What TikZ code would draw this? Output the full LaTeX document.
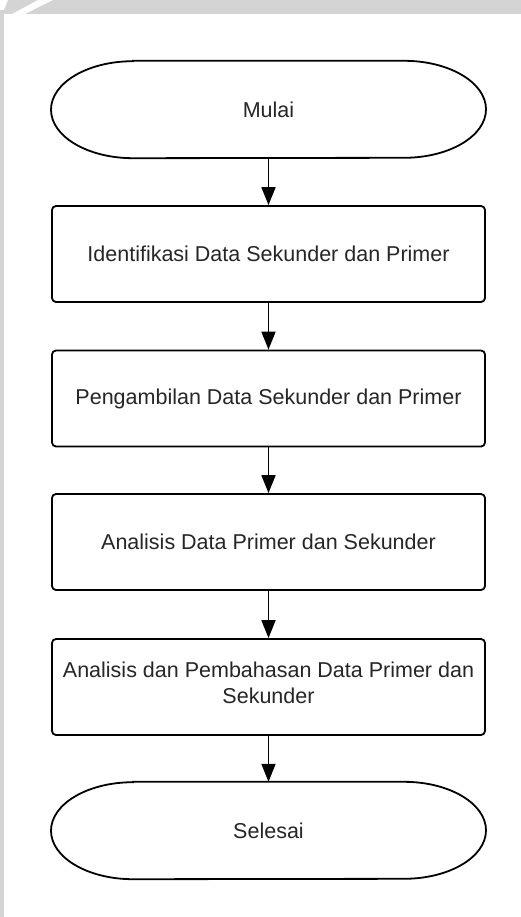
\documentclass[tikz,border=0pt]{standalone}
\usepackage{fontspec}
\setmainfont{Liberation Sans}
\usetikzlibrary{arrows.meta}
\definecolor{bandgray}{HTML}{D4D4D4}
\definecolor{txt}{HTML}{262626}
\tikzset{
  box/.style={draw=black, line width=1.8pt, rounded corners=4pt, minimum width=433pt, minimum height=96pt, inner sep=0pt, align=center, text=txt, font=\fontsize{21.5pt}{26pt}\selectfont},
  term/.style={minimum width=435pt, minimum height=97pt, inner sep=0pt, text=txt, font=\fontsize{21.5pt}{26pt}\selectfont},
  termline/.style={draw=black, line width=1.8pt},
  flow/.style={draw=black, line width=1.8pt, -{Triangle[length=18pt,width=14pt]}}
}
\begin{document}
\begin{tikzpicture}[x=1pt,y=-1pt]
\useasboundingbox (0,0) rectangle (521,917);
\fill[white] (0,0) rectangle (521,917);
% gray bands
\fill[bandgray] (0,0) rectangle (521,14);
\fill[bandgray] (0,0) rectangle (4,917);
\fill[white] (38,0) -- (53,0) -- (25,14) -- (12,14) -- cycle;
\fill[white] (0,0) -- (8,0) -- (4,10) -- (0,10) -- cycle;

% terminals
\node[term] (start) at (268.5,109.5) {Mulai};
\draw[termline] ([xshift=-135.5pt]start.north) -- ([xshift=135.5pt]start.north)
  arc[start angle=90, end angle=-90, x radius=82pt, y radius=48.5pt]
  -- ([xshift=-135.5pt]start.south)
  arc[start angle=270, end angle=90, x radius=82pt, y radius=48.5pt] -- cycle;

\node[box] (b1) at (268.5,254) {Identifikasi Data Sekunder dan Primer};
\node[box] (b2) at (268.5,398.5) {Pengambilan Data Sekunder dan Primer};
\node[box] (b3) at (268.5,542) {Analisis Data Primer dan Sekunder};
\node[box] (b4) at (268.5,687) {Analisis dan Pembahasan Data Primer dan\\[0pt]Sekunder\\[-18pt]};

\node[term] (end) at (268.5,830.5) {Selesai};
\draw[termline] ([xshift=-135.5pt]end.north) -- ([xshift=135.5pt]end.north)
  arc[start angle=90, end angle=-90, x radius=82pt, y radius=48.5pt]
  -- ([xshift=-135.5pt]end.south)
  arc[start angle=270, end angle=90, x radius=82pt, y radius=48.5pt] -- cycle;

% connectors
\draw[flow] (start.south) -- (b1.north);
\draw[flow] (b1.south) -- (b2.north);
\draw[flow] (b2.south) -- (b3.north);
\draw[flow] (b3.south) -- (b4.north);
\draw[flow] (b4.south) -- (end.north);
\end{tikzpicture}
\end{document}
